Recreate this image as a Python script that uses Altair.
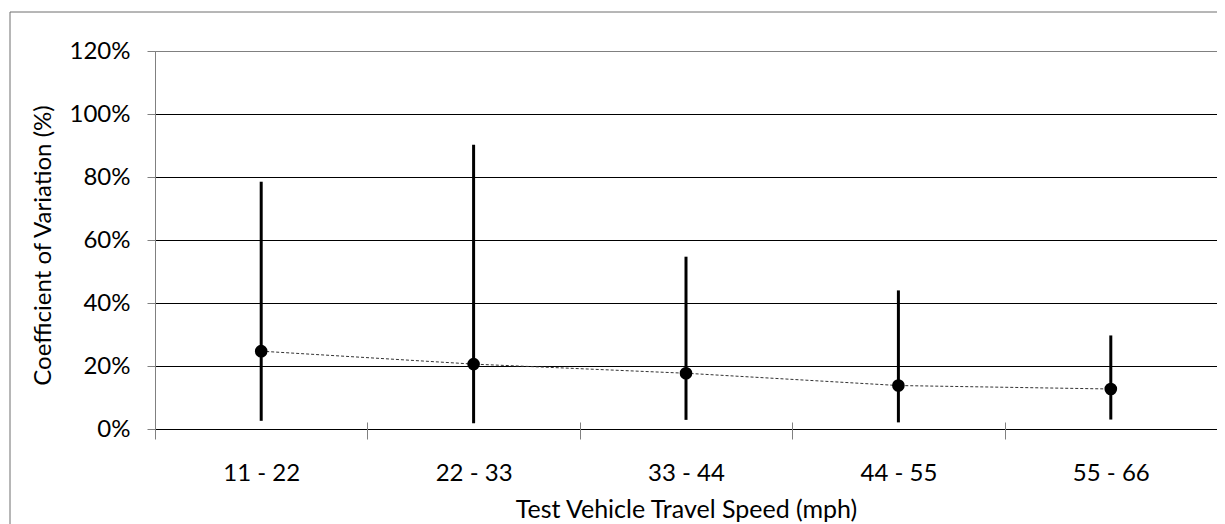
import altair as alt
import pandas as pd

categories = ["11 - 22", "22 - 33", "33 - 44", "44 - 55", "55 - 66"]
cv_mean = [0.247, 0.206, 0.177, 0.138, 0.127]
cv_low = [0.026, 0.018, 0.029, 0.021, 0.030]
cv_high = [0.785, 0.902, 0.547, 0.440, 0.297]
y_ticks = [0, 0.2, 0.4, 0.6, 0.8, 1.0, 1.2]

df = pd.DataFrame({"speed": categories, "mean": cv_mean, "low": cv_low, "high": cv_high})

W, H = 1062, 378
FONT = "Lato"
GRAY = "#808080"

x_axis = alt.Axis(
    title="Test Vehicle Travel Speed (mph)", labelAngle=0, domain=False, offset=-7,
    tickSize=17, tickColor=GRAY, tickBand="extent", labelPadding=41,
    labelBaseline="alphabetic", titleY=95, titleBaseline="alphabetic", grid=False,
    titleFontSize=25,
)
x_scale = alt.Scale(paddingInner=0, paddingOuter=0)
y_scale = alt.Scale(domain=[0, 1.2], nice=False, zero=True)
y_axis = alt.Axis(
    values=y_ticks, format=".0%", title="Coefficient of Variation (%)",
    tickSize=8, tickColor=GRAY, domainColor=GRAY,
    gridColor=alt.condition("datum.value > 1.1", alt.value(GRAY), alt.value("black")),
    labelPadding=17, titleX=-105, titleY=194, titleBaseline="alphabetic",
)

def X():
    return alt.X("speed:N", sort=categories, scale=x_scale, axis=x_axis)

base = alt.Chart(df)

border = alt.Chart(pd.DataFrame({"b": [0]})).mark_rect(
    fillOpacity=0, stroke="#6e6e6e", strokeWidth=1
).encode(
    x=alt.value(-145), x2=alt.value(W + 20), y=alt.value(-39), y2=alt.value(H + 120)
)

line = base.mark_line(color="#333333", strokeWidth=1, strokeDash=[3, 2]).encode(
    x=X(), y=alt.Y("mean:Q", scale=y_scale, axis=y_axis)
)

whisk = base.mark_rule(color="black", strokeWidth=3).encode(
    x=X(), y=alt.Y("low:Q", scale=y_scale, axis=y_axis), y2="high:Q"
)

pts = base.mark_circle(size=160, color="black", opacity=1).encode(
    x=X(), y=alt.Y("mean:Q", scale=y_scale, axis=y_axis)
)

chart = alt.layer(line, whisk, pts, border).properties(
    width=W, height=H,
    autosize=alt.AutoSizeParams(type="none"),
    padding={"left": 147, "top": 43, "right": 0, "bottom": 100},
).configure_view(
    stroke=GRAY, strokeWidth=1
).configure_axis(
    labelFont=FONT, titleFont=FONT, labelFontSize=24, titleFontSize=24,
    labelColor="black", titleColor="black", titleFontWeight="normal",
    gridWidth=1, domainWidth=1, tickWidth=1,
)

chart.save("out.html", embed_options={"renderer": "svg", "actions": False})
